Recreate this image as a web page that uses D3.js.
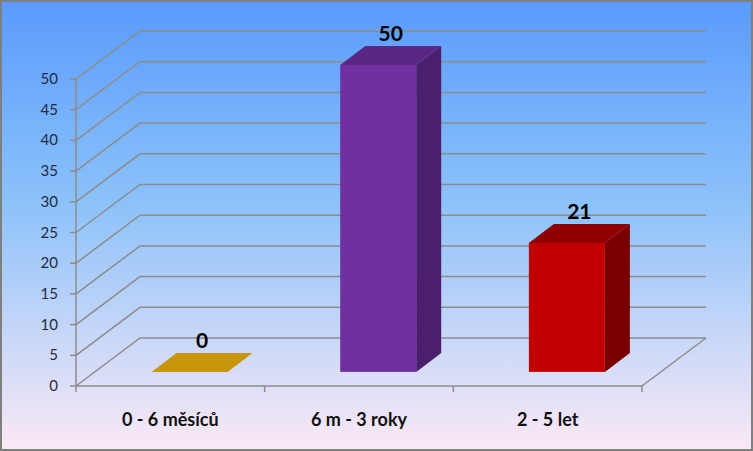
<!DOCTYPE html><html><head><meta charset="utf-8">
<script src="https://cdn.jsdelivr.net/npm/d3@7"></script>
<style>body{margin:0}svg{display:block}</style></head><body><script>
const categories=["0 - 6 měsíců","6 m - 3 roky","2 - 5 let"];
const values=[0,50,21];
const tickValues=[0,5,10,15,20,25,30,35,40,45,50];
const colors=[{f:"#c8960a",s:"#8a6a06",t:"#c8960a"},{f:"#7030a0",s:"#4a1f6b",t:"#5a2884"},{f:"#c00000",s:"#780000",t:"#900000"}];
const W=753,H=451,DX=64,DY=-48;
const svg=d3.select("body").append("svg").attr("width",W).attr("height",H);
const defs=svg.append("defs");
const g=defs.append("linearGradient").attr("id","bg").attr("x1",0).attr("y1",0).attr("x2",0).attr("y2",1);
[[0,"#5a9bfc"],[0.45,"#8cc2fa"],[1,"#fbe9f6"]].forEach(([o,c])=>g.append("stop").attr("offset",o).attr("stop-color",c));
svg.append("rect").attr("x",1).attr("y",1).attr("width",W-2).attr("height",H-2).attr("fill","url(#bg)").attr("stroke","#7f7f7f").attr("stroke-width",2);
const y=d3.scaleLinear().domain([0,50]).range([386,79]);
const x=d3.scaleBand().domain(categories).range([76,642]);
const gc="#8c8c8c";
// gridlines
tickValues.forEach(v=>{
  svg.append("polyline").attr("points",`76,${y(v)} ${76+DX},${y(v)+DY} ${642+DX},${y(v)+DY}`).attr("fill","none").attr("stroke",gc).attr("stroke-width",1.5);
});
// floor
svg.append("polyline").attr("points",`642,${y(0)} ${642+DX},${y(0)+DY}`).attr("stroke",gc).attr("stroke-width",1.5).attr("fill","none");
svg.append("line").attr("x1",76).attr("x2",76).attr("y1",y(0)).attr("y2",y(50)).attr("stroke",gc).attr("stroke-width",1.5);
svg.append("line").attr("x1",76).attr("x2",642).attr("y1",y(0)).attr("y2",y(0)).attr("stroke",gc).attr("stroke-width",1.5);
tickValues.forEach(v=>{
  svg.append("line").attr("x1",70).attr("x2",76).attr("y1",y(v)).attr("y2",y(v)).attr("stroke",gc).attr("stroke-width",1.5);
  svg.append("text").attr("x",58).attr("y",y(v)+5).attr("text-anchor","end").attr("font-family","Lato, sans-serif").attr("font-size",15).attr("fill","#1f2a44").text(v);
});
[76,...categories.map(c=>x(c)+x.bandwidth())].forEach(px=>{
  svg.append("line").attr("x1",px).attr("x2",px).attr("y1",y(0)).attr("y2",y(0)+6).attr("stroke",gc).attr("stroke-width",1.5);
});
categories.forEach((c,i)=>{
  svg.append("text").attr("x",x(c)+x.bandwidth()/2).attr("y",426).attr("text-anchor","middle").attr("font-family","Lato, sans-serif").attr("font-weight","bold").attr("font-size",18).attr("fill","#111").text(c);
});
// bars
const bw=76,f=0.3,bdx=25,bdy=-19;
categories.forEach((c,i)=>{
  const x0=x(c)+(x.bandwidth()-bw)/2+DX*f, base=y(0)+DY*f*0.98, top=base-(y(0)-y(values[i]));
  const col=colors[i];
  if(values[i]>0){
    svg.append("polygon").attr("points",`${x0+bw},${base} ${x0+bw+bdx},${base+bdy} ${x0+bw+bdx},${top+bdy} ${x0+bw},${top}`).attr("fill",col.s);
    svg.append("rect").attr("x",x0).attr("y",top).attr("width",bw).attr("height",base-top).attr("fill",col.f);
  }
  svg.append("polygon").attr("points",`${x0},${top} ${x0+bdx},${top+bdy} ${x0+bw+bdx},${top+bdy} ${x0+bw},${top}`).attr("fill",col.t);
  svg.append("text").attr("x",x0+(bw+bdx)/2).attr("y",top+bdy-5).attr("text-anchor","middle").attr("font-family","Lato, sans-serif").attr("font-weight","bold").attr("font-size",21).attr("fill","#000").text(values[i]);
});
</script></body></html>
